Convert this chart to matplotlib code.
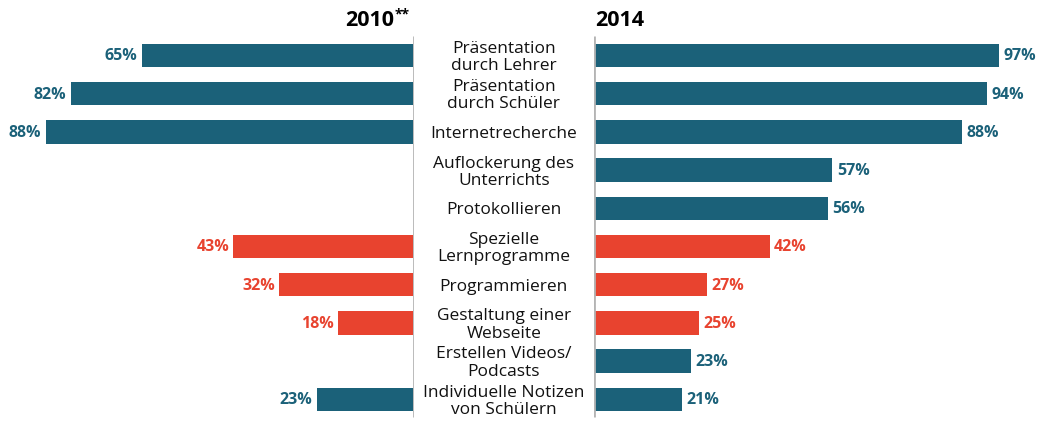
import matplotlib
matplotlib.use("Agg")
import matplotlib.pyplot as plt

categories = [
    "Präsentation\ndurch Lehrer",
    "Präsentation\ndurch Schüler",
    "Internetrecherche",
    "Auflockerung des\nUnterrichts",
    "Protokollieren",
    "Spezielle\nLernprogramme",
    "Programmieren",
    "Gestaltung einer\nWebseite",
    "Erstellen Videos/\nPodcasts",
    "Individuelle Notizen\nvon Schülern",
]
values_2010 = [65, 82, 88, None, None, 43, 32, 18, None, 23]
values_2014 = [97, 94, 88, 57, 56, 42, 27, 25, 23, 21]
highlight = [False, False, False, False, False, True, True, True, False, False]

BLUE = "#1b6179"
RED = "#e8432f"
GRAY = "#b4b4b4"

W, H = 1046, 427
fig = plt.figure(figsize=(W / 100, H / 100), dpi=100)
plt.rcParams['font.family'] = ['Open Sans', 'DejaVu Sans']

px_per_pct = 4.17
left_edge = 414.0
right_edge = 593.5
row0 = 56.5
row_step = 38.2

ylo = (H - row0) / row_step
yhi = -row0 / row_step

axL = fig.add_axes([0, 0, left_edge / W, 1])
axR = fig.add_axes([right_edge / W, 0, (W - right_edge) / W, 1])
axL.set_xlim(left_edge / px_per_pct, 0)
axR.set_xlim(0, (W - right_edge) / px_per_pct)
for ax in (axL, axR):
    ax.set_ylim(ylo, yhi)
    ax.axis("off")

line_top = (37 - row0) / row_step
line_bot = (418 - row0) / row_step
axL.vlines(0, line_top, line_bot, color=GRAY, lw=2)
axR.vlines(0, line_top, line_bot, color=GRAY, lw=2)

bar_h = 0.61
for i, (v10, v14, hl) in enumerate(zip(values_2010, values_2014, highlight)):
    c = RED if hl else BLUE
    if v10 is not None:
        axL.barh(i, v10, height=bar_h, color=c, left=0.3)
        axL.annotate(f"{v10}%", (v10, i), xytext=(-4, 0), textcoords="offset points",
                     ha="right", va="center", color=c, fontsize=11.5, fontweight="bold")
    axR.barh(i, v14, height=bar_h, color=c, left=0.3)
    axR.annotate(f"{v14}%", (v14, i), xytext=(4, 0), textcoords="offset points",
                 ha="left", va="center", color=c, fontsize=11.5, fontweight="bold")

center_x = (left_edge + right_edge) / 2 / W
for i, cat in enumerate(categories):
    y = 1 - (row0 + row_step * i + 1) / H
    fig.text(center_x, y, cat, ha="center", va="center", fontsize=12.5,
             linespacing=1.1, color="#111111")

fig.text(394 / W, 1 - 20 / H, "2010", ha="right", va="center",
         fontsize=15.5, fontweight="bold", color="#000000")
fig.text(395 / W, 1 - 14 / H, "**", ha="left", va="center",
         fontsize=10, fontweight="bold", color="#000000")
fig.text((right_edge + 2) / W, 1 - 20 / H, "2014", ha="left", va="center",
         fontsize=15.5, fontweight="bold", color="#000000")

fig.savefig("out.png", dpi=100)
